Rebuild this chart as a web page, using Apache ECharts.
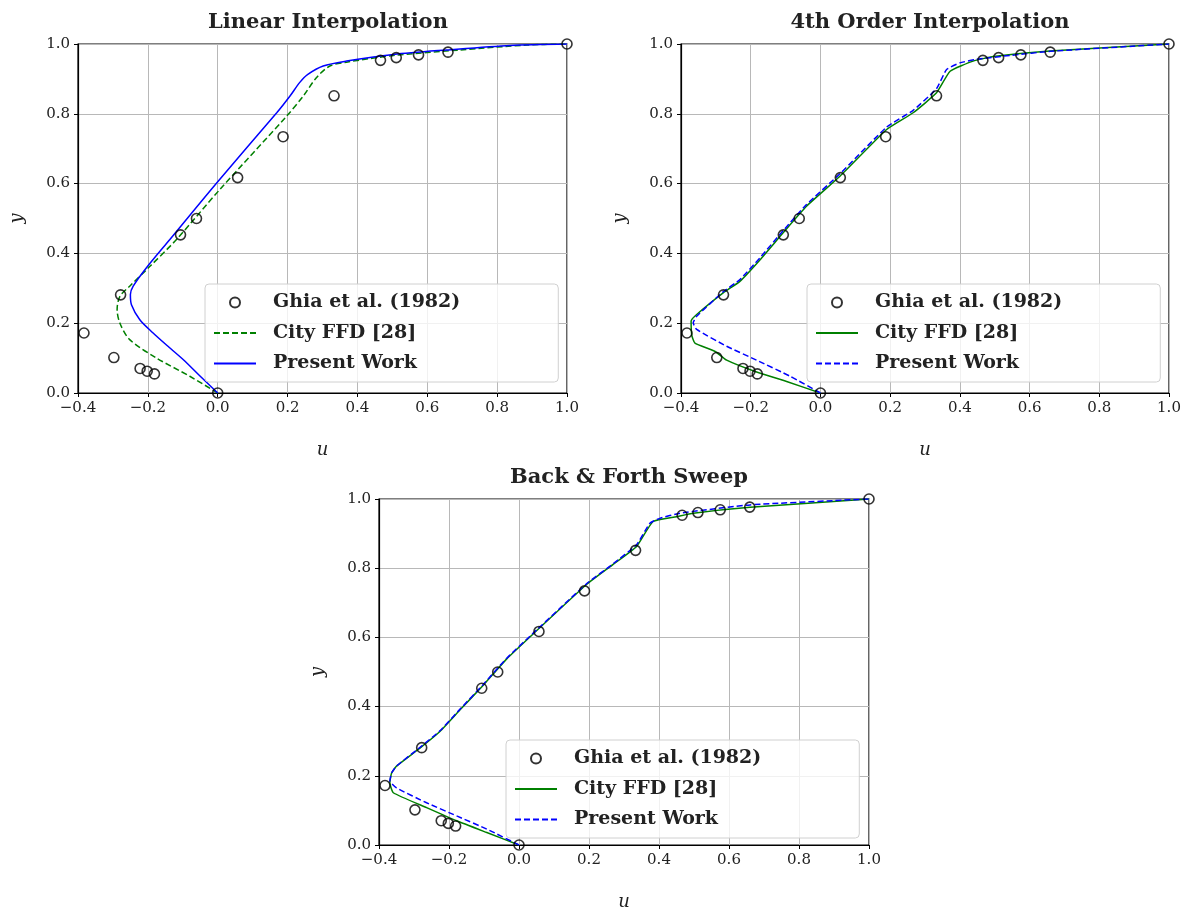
<!DOCTYPE html>
<html lang="en">
<head>
    <meta charset="UTF-8">
    <title>Lid-driven cavity u profiles</title>
    <script src="https://cdn.jsdelivr.net/npm/echarts@6/dist/echarts.min.js"></script>
</head>
<body style="margin:0;background:#fff">
    <div id="chart" style="width:1189px;height:912px"></div>
    <script>
        // Ghia et al. (1982), Re = 1000, u along vertical centreline
        var ghiaU = [1.0, 0.65928, 0.57492, 0.51117, 0.46604, 0.33304, 0.18719, 0.05702, -0.06080,
            -0.10648, -0.27805, -0.38289, -0.29730, -0.22220, -0.20196, -0.18109, 0.0]
        var ghiaY = [1.0, 0.9766, 0.9688, 0.9609, 0.9531, 0.8516, 0.7344, 0.6172, 0.5000,
            0.4531, 0.2813, 0.1719, 0.1016, 0.0703, 0.0625, 0.0547, 0.0]

        // linear interpolation panel  [u, y]
        var cityLinear = [[0, 0], [-0.08, 0.048], [-0.175, 0.1], [-0.252, 0.153], [-0.28, 0.2], [-0.288, 0.239],
            [-0.28, 0.277], [-0.252, 0.306], [-0.194, 0.363], [-0.118, 0.44], [0.006, 0.583], [0.197, 0.793],
            [0.245, 0.851], [0.283, 0.904], [0.321, 0.937], [0.369, 0.948], [0.503, 0.967], [0.695, 0.983],
            [0.886, 0.997], [1, 1]]
        var presentLinear = [[0, 0], [-0.05, 0.048], [-0.099, 0.096], [-0.145, 0.136], [-0.185, 0.172], [-0.223, 0.21],
            [-0.247, 0.253], [-0.25, 0.282], [-0.242, 0.306], [-0.204, 0.359], [-0.137, 0.44], [-0.003, 0.602],
            [0.169, 0.803], [0.207, 0.851], [0.235, 0.89], [0.258, 0.913], [0.302, 0.937], [0.369, 0.951],
            [0.503, 0.97], [0.656, 0.983], [0.838, 0.996], [1, 1]]

        // 4th order interpolation panel
        var city4th = [[0, 0], [-0.097, 0.033], [-0.183, 0.06], [-0.269, 0.094], [-0.302, 0.119], [-0.36, 0.143],
            [-0.369, 0.165], [-0.371, 0.206], [-0.355, 0.225], [-0.279, 0.287], [-0.231, 0.32], [-0.173, 0.382],
            [-0.107, 0.459], [-0.04, 0.535], [0.056, 0.621], [0.19, 0.755], [0.266, 0.803], [0.333, 0.86],
            [0.372, 0.922], [0.438, 0.951], [0.496, 0.964], [0.658, 0.98], [1, 1]]
        var present4th = [[0, 0], [-0.087, 0.048], [-0.183, 0.094], [-0.269, 0.134], [-0.355, 0.182], [-0.365, 0.201],
            [-0.355, 0.22], [-0.279, 0.29], [-0.231, 0.325], [-0.173, 0.388], [-0.107, 0.465], [-0.04, 0.54],
            [0.056, 0.628], [0.19, 0.762], [0.266, 0.81], [0.333, 0.872], [0.362, 0.927], [0.4, 0.946],
            [0.448, 0.956], [0.55, 0.968], [0.66, 0.979], [1, 1]]

        // back & forth sweep panel
        var citySweep = [[0, 0], [-0.092, 0.036], [-0.178, 0.07], [-0.264, 0.108], [-0.359, 0.151], [-0.369, 0.18],
            [-0.364, 0.208], [-0.35, 0.228], [-0.283, 0.28], [-0.226, 0.328], [-0.169, 0.39], [-0.102, 0.462],
            [-0.035, 0.538], [0.05, 0.619], [0.193, 0.753], [0.269, 0.811], [0.336, 0.863], [0.383, 0.935],
            [0.45, 0.949], [0.498, 0.959], [0.66, 0.976], [1, 1]]
        var presentSweep = [[0, 0], [-0.092, 0.046], [-0.178, 0.084], [-0.264, 0.122], [-0.35, 0.165], [-0.369, 0.185],
            [-0.364, 0.208], [-0.35, 0.228], [-0.283, 0.282], [-0.226, 0.33], [-0.169, 0.392], [-0.102, 0.464],
            [-0.035, 0.54], [0.05, 0.621], [0.193, 0.755], [0.269, 0.813], [0.336, 0.868], [0.374, 0.93],
            [0.402, 0.944], [0.46, 0.959], [0.66, 0.983], [1, 1]]

        var titles = ['Linear Interpolation', '4th Order Interpolation', 'Back & Forth Sweep']
        var names = ['Ghia et al. (1982)', 'City FFD [28]', 'Present Work']

        var serif = 'DejaVu Serif'
        var GREEN = '#008000', BLUE = '#0000ff'

        var ghia = ghiaU.map(function (u, i) { return [u, ghiaY[i]] })

        var grids = [
            { left: 78, top: 44, width: 489, height: 349 },
            { left: 681, top: 44, width: 488, height: 349 },
            { left: 379, top: 499, width: 490, height: 349 }
        ]
        var titlePos = [{ x: 323, y: 7 }, { x: 925, y: 7 }, { x: 624, y: 462 }]
        var legendPos = [{ x: 205, y: 284 }, { x: 807, y: 284 }, { x: 506, y: 740 }]

        var option = {
            animation: false,
            title: [], grid: [], xAxis: [], yAxis: [], legend: [], series: []
        }

        grids.forEach(function (g, k) {
            option.title.push({
                text: titles[k], left: titlePos[k].x, top: titlePos[k].y, textAlign: 'center',
                textStyle: { fontFamily: serif, fontWeight: 'bold', fontSize: 21, color: '#222' }
            })
            option.grid.push(Object.assign({ show: true, borderColor: '#000', borderWidth: 1.2 }, g))
            option.xAxis.push({
                type: 'value', gridIndex: k, min: -0.4, max: 1.0, interval: 0.2,
                name: 'u', nameLocation: 'middle', nameGap: 48,
                nameTextStyle: { fontFamily: serif, fontStyle: 'italic', fontSize: 18, color: '#222' },
                axisLine: { show: true, onZero: false, lineStyle: { color: '#000', width: 1.2 } },
                axisTick: { show: true, length: 4, lineStyle: { color: '#000' } },
                axisLabel: {
                    fontFamily: serif, fontSize: 15, color: '#222', margin: 8,
                    formatter: function (v) { return v.toFixed(1).replace('-', '\u2212') }
                },
                splitLine: { show: true, lineStyle: { color: '#b8b8b8', width: 1 } }
            })
            option.yAxis.push({
                type: 'value', gridIndex: k, min: 0, max: 1.0, interval: 0.2,
                name: 'y', nameLocation: 'middle', nameGap: 52,
                nameTextStyle: { fontFamily: serif, fontStyle: 'italic', fontSize: 18, color: '#222' },
                axisLine: { show: true, onZero: false, lineStyle: { color: '#000', width: 1.2 } },
                axisTick: { show: true, length: 4, lineStyle: { color: '#000' } },
                axisLabel: {
                    fontFamily: serif, fontSize: 15, color: '#222', margin: 8,
                    formatter: function (v) { return v.toFixed(1) }
                },
                splitLine: { show: true, lineStyle: { color: '#b8b8b8', width: 1 } }
            })
            option.legend.push({
                data: names.map(function (n, j) {
                    var item = { name: n + '#' + k }
                    if (j > 0) item.itemStyle = { opacity: 0 }
                    return item
                }),
                formatter: function (n) { return n.split('#')[0] },
                orient: 'vertical', left: legendPos[k].x, top: legendPos[k].y,
                padding: [9, 98, 9, 8], itemGap: 11.5,
                itemWidth: 42, itemHeight: 10,
                backgroundColor: 'rgba(255,255,255,0.8)', borderColor: '#d0d0d0', borderWidth: 1, borderRadius: 4,
                selectedMode: false,
                textStyle: {
                    fontFamily: serif, fontWeight: 'bold', fontSize: 19, lineHeight: 16,
                    color: '#222', padding: [0, 0, 0, 12]
                }
            })
        })

        var curves = [[cityLinear, presentLinear], [city4th, present4th], [citySweep, presentSweep]]
        // linear panel: city dashed, present solid; the others swap
        var dashed = [[true, false], [false, true], [false, true]]
        var colors = [GREEN, BLUE]

        curves.forEach(function (pair, k) {
            pair.forEach(function (data, j) {
                option.series.push({
                    type: 'line', name: names[j + 1] + '#' + k,
                    xAxisIndex: k, yAxisIndex: k, data: data,
                    showSymbol: false, symbol: 'none', smooth: k === 0 ? 0.3 : 0.15,
                    lineStyle: { color: colors[j], width: 1.5, type: dashed[k][j] ? [6, 3] : 'solid' },
                    itemStyle: { color: colors[j] },
                    z: 3
                })
            })
            option.series.push({
                type: 'scatter', name: names[0] + '#' + k,
                xAxisIndex: k, yAxisIndex: k, data: ghia,
                symbol: 'circle', symbolSize: 10,
                itemStyle: { color: 'rgba(0,0,0,0)', borderColor: '#000', borderWidth: 1.6 },
                z: 4
            })
        })

        var chart = echarts.init(document.getElementById('chart'))
        chart.setOption(option)
    </script>
</body>
</html>
